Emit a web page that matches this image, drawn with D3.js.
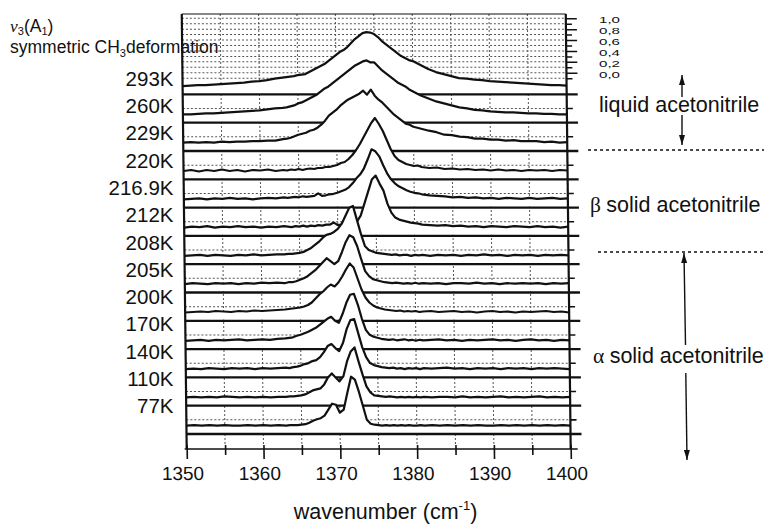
<!DOCTYPE html>
<html><head><meta charset="utf-8">
<script src="https://cdn.jsdelivr.net/npm/d3@7"></script>
<style>
html,body{margin:0;padding:0;background:#fff;}
svg{display:block;font-family:"Liberation Sans",Arial,Helvetica,sans-serif;}
</style></head><body>
<svg id="chart" width="770" height="524"></svg>
<script>
// ---------------- DATA ----------------
const wavenumbers = [1350,1351,1352,1353,1354,1355,1356,1357,1358,1359,1360,1361,1362,1363,
  1363.5,1364,1364.5,1365,1365.5,1366,1366.5,1367,1367.5,1368,1368.5,1369,1369.5,1370,1370.5,1371,1371.5,1372,1372.5,1373,1373.5,1374,1374.5,1375,1375.5,1376,1376.5,1377,1377.5,1378,1378.5,1379,1379.5,1380,1380.5,1381,
  1382,1383,1384,1385,1386,1387,1388,1389,1390,1391,1392,1393,1394,1395,1396,1397,1398,1399,1400];

const temperatures = ["293K","260K","229K","220K","216.9K","212K","208K","205K","200K","170K","140K","110K","77K"];

// intensities (arb. units), one array per temperature
const s293 = [0,0.5,1,1,1.5,2,2.5,3,3.5,4.5,5,6,7.5,8.5,
  9,9.5,10,11,11.5,12,14,16,18,20,22,25,28,31,34,36,39,43,47,50,53,54,53.5,52,49,45,42,39,36,33,30,28,26,25,23,21,
  17,14,12,10,8,7.5,6.5,6,5,4.5,4,3.5,3,2.5,2,1.5,1,1,0.5];
const s260 = [0,0,0.5,1,1,1.5,2,2.5,3,3.5,4,5,6,6.5,
  7,8,9,11,12,14,16,18,20,23,26,28,31,34,37,40,43,46,49,51,53,54,52,52,48,44,41,38,35,32,30,28,25,23,21,19,
  16,13,11,9,7,6,4.5,4,3,2.5,2,2,1.5,1,1,0.5,0.5,0,0];
const s229 = [0,0.5,0,0.5,0,1,0.5,1,1,1.5,1.5,2,2,3.5,
  4,5,6.5,8,9,10,12,13,15,18,22,27,30,33,37,40,43,45,47,49,52,48,53,47,43,40,36,32,28,25,22,19,18,16,15,14,
  12,10.5,8,7.5,6,5.5,4,4,3,3,2,2.5,1.5,1.5,1.5,0.5,1,0,0.5];
const s220 = [0,1,-0.5,1,0,1.5,0,1,-0.5,1,0.5,1.5,0,1,
  0.5,1.5,1,2,1,2,2.5,2,3,3,4,4,5,6,8,9,12,16,21,27,34,41,48,53,47,40,31,22,15,11,9,7,6,5,5.5,4,
  3,3.5,2,2.5,1.5,2,1,1.5,0.5,1.5,0.5,1,0,1,0.5,1,0,1,0.5];
const s2169 = [0,0.5,1,0,1,0.5,1.5,0.5,1,0,1,1.5,1,2,
  1.5,2,2.5,2,3,2.5,3,3.5,6,3.5,4,5,5.5,6.5,8,9.5,12,16,21,25,31,40,50,48,43,34,26,20,16,13,11,9,7.5,6.5,6,5,
  4,3.5,3,2,2.5,1.5,2,1,1.5,0.5,1.5,1,0.5,1.5,0.5,1,1.5,0.5,1];
const s212 = [0,1,0.5,1.5,0,1,0.5,1.5,0.5,1,0,1,0.5,1.5,
  1,0.5,1.5,1,2,1,2,1.5,2.5,2,3,3,5,2.5,3,3.5,4,4.5,6,12,24,36,48,52,44,37,24,15,10,8,7,6,5,4.5,4,3,
  2.5,2,2.5,1.5,2,1,1.5,0.5,1.5,1,0.5,1.5,1,0.5,1.5,0.5,1,0,1];
const s208 = [0,0.5,1,0,1,0.5,0,1,0.5,1.5,0.5,1,1.5,1.5,
  2,2,2.5,3,4,6,8,11,14,18,21,22,24,27,32,40,48,50,36,22,10,6,4.5,3,2.5,2,1.5,1,1.5,0.5,1,1,0,1,0.5,1,
  0,1,0.5,1,0,1,0.5,1.5,0.5,1,0,1,0.5,1,0,1,0.5,1,0.5];
const s205 = [0,1,0.5,0,1,0.5,1,0,1,0.5,1.5,1,1.5,1,
  2,2,3,4.5,6,8,11,14,18,22,26,23,20,23,32,42,49,47,38,25,13,8,5,4,3,2,1.5,1,1.5,1,0.5,1,0.5,1.5,0.5,1,
  0.5,1,0,1,1,0.5,1.5,0.5,1,0,1,0.5,1,0.5,1,0,1,0.5,1];
const s200 = [0,0.5,1,0.5,1.5,1,0.5,1.5,1,2,1.5,2,2.5,3,
  3.5,4,4.5,5,6,7.5,10,14,18,21,25,28,26,30,36,43,49,45,34,23,15,10,7,5,4,3,2.5,2,1.5,2,1,1.5,1,1.5,0.5,1,
  1.5,0.5,1,1.5,0.5,1,0,1,1.5,0.5,1,0,1,0.5,1,1.5,0.5,1,0];
const s170 = [0,0.5,1,0,1,0.5,1,1.5,0.5,1,1.5,1,2,2.5,
  3,3.5,5,6,7.5,9,11,13,16,19,22,24,20,18,27,38,46,47,36,22,11,6,4,3,2,1.5,1,1.5,0.5,1,1.5,0.5,1,0,1,0.5,
  1,1.5,0.5,1,0,1,0.5,1,1.5,0.5,1,0,1,1.5,0.5,1,0,1,0.5];
const s140 = [0,0.5,0,1,0.5,0,1,0.5,1,0,1,0.5,1,1.5,
  1,2,2.5,3.5,5,6,8,9,12,17,23,25,21,18,26,40,49,50,36,22,12,6,4,3,2,1.5,1,1.5,0.5,1,0,1,0.5,1,0,1,
  0.5,1,1.5,0.5,1,0,1,0.5,1,0,1,0.5,1,0,1,0.5,1,0.5,0];
const s110 = [0,0.5,0,0.5,0,1,0.5,0,0.5,0,0.5,0,0.5,0.5,
  1,1,1.5,2,3,5,7,8,9,13,20,24,20,16,21,36,46,50,36,23,11,5,2,1.5,1,0.5,1,0.5,0,0.5,0,0.5,0,0.5,0,0.5,
  0,0.5,0.5,0,1,0,0.5,0,0.5,1,0,0.5,0,0.5,1,0,0.5,0,0.5];
const s77 = [0,0.5,0,0.5,0,0.5,0,0,0.5,0,0.5,0,0.5,0,
  0.5,0.5,0.5,1,1.5,3,5,6.5,7.5,10,16,22,21,13,16,33,49,46,34,20,6,2,1,0.5,0,0.5,0,0.5,0,0.5,0,0.5,0,0,0.5,0,
  0.5,0,0.5,0,0.5,0,0.5,0,0,0.5,0,0.5,0,0.5,0,0.5,0,0.5,0];

const spectra = [s293,s260,s229,s220,s2169,s212,s208,s205,s200,s170,s140,s110,s77];

const xTicks = [1350,1360,1370,1380,1390,1400];
const xMinorTicks = [1355,1365,1375,1385,1395];
const scaleTicks = [0,0.2,0.4,0.6,0.8,1.0];
const scaleMinorTicks = [-0.1,0.1,0.3,0.5,0.7,0.9];
const scaleLabels = ["0,0","0,2","0,4","0,6","0,8","1,0"];

// ---------------- LAYOUT ----------------
const svg = d3.select('#chart');
const x = d3.scaleLinear().domain([1350,1400]).range([186.7,570.7]);
const X0 = x(1350), X1 = x(1400);
const nRows = temperatures.length;
const yPanel = d3.scaleLinear().domain([0,nRows-1]).range([434,94.4]); // separator below each row (0 = bottom row)
const amp = d3.scaleLinear().domain([0,60]).range([0,60]);
const ybar = d3.scaleLinear().domain([0,1]).range([72.7,18.3]);
const yLabel = d3.scaleLinear().domain([0,nRows-1]).range([78.3,406]);
const TOP = 14, AXIS_Y = 449, BASE_OFF = 8.3;
const HALF = (yPanel(0)-yPanel(1))/2;
const INK = '#111';

const g = svg.append('g').attr('transform',`translate(0,${AXIS_Y}) skewX(0.65) translate(0,${-AXIS_Y})`);

// dotted grid
const grid = g.append('g').attr('stroke','#555').attr('stroke-width',1).attr('stroke-dasharray','2,2').attr('fill','none');
const vGrid = x.ticks(10).filter(v => v > 1350 && v < 1400);
grid.selectAll('line.v').data(vGrid).join('line')
  .attr('x1',d=>x(d)).attr('x2',d=>x(d)).attr('y1',TOP).attr('y2',AXIS_Y-4);
const topGrid = d3.range(-1,11).map(i=>i/10);
grid.selectAll('line.h').data(topGrid).join('line')
  .attr('x1',X0).attr('x2',X1).attr('y1',d=>ybar(d)).attr('y2',d=>ybar(d));
const mids = d3.range(0,nRows-1).map(k=>yPanel(k)-HALF);
grid.selectAll('line.m').data(mids).join('line')
  .attr('x1',X0).attr('x2',X1).attr('y1',d=>d).attr('y2',d=>d);

// right ticks at panel mid-lines
g.append('g').selectAll('line').data(mids).join('line')
  .attr('x1',X1).attr('x2',X1+6).attr('y1',d=>d).attr('y2',d=>d)
  .attr('stroke',INK).attr('stroke-width',1.5);

// right scale bar for the top row
const rMaj = g.append('g').attr('transform',`translate(${X1},0)`)
  .call(d3.axisRight(ybar).tickValues(scaleTicks).tickSize(11).tickFormat(''));
const rMin = g.append('g').attr('transform',`translate(${X1},0)`)
  .call(d3.axisRight(ybar).tickValues(scaleMinorTicks).tickSize(6).tickFormat(''));
[rMaj,rMin].forEach(s=>{ s.select('.domain').remove(); s.selectAll('.tick line').attr('stroke',INK).attr('stroke-width',1.5); });

// spectra, top to bottom, each with white fill covering what lies above
const specG = g.append('g');
temperatures.forEach((t,i)=>{
  const k = nRows-1-i;
  const sep = yPanel(k);
  const base = sep - BASE_OFF;
  const pts = wavenumbers.map((w,j)=>[w,spectra[i][j]]);
  const area = d3.area().x(d=>x(d[0])).y0(sep-1.2).y1(d=>base-amp(d[1]));
  const line = d3.line().x(d=>x(d[0])).y(d=>base-amp(d[1]));
  specG.append('path').attr('d',area(pts)).attr('fill','#fff').attr('stroke','none');
  specG.append('path').attr('d',line(pts)).attr('fill','none').attr('stroke',INK)
    .attr('stroke-width',2.2).attr('stroke-linejoin','round');
  specG.append('line').attr('x1',X0).attr('x2',X1+11).attr('y1',sep).attr('y2',sep)
    .attr('stroke',INK).attr('stroke-width',2.3);
});

// right tick in bottom strip
g.append('line').attr('x1',X1).attr('x2',X1+6).attr('y1',yPanel(0)-HALF).attr('y2',yPanel(0)-HALF)
  .attr('stroke',INK).attr('stroke-width',1.5);

// frame
g.append('line').attr('x1',X0).attr('x2',X1).attr('y1',TOP).attr('y2',TOP).attr('stroke',INK).attr('stroke-width',1.2);
g.append('line').attr('x1',X0).attr('x2',X0).attr('y1',TOP).attr('y2',AXIS_Y).attr('stroke',INK).attr('stroke-width',2.2);
g.append('line').attr('x1',X1).attr('x2',X1).attr('y1',TOP).attr('y2',AXIS_Y).attr('stroke',INK).attr('stroke-width',2.2);

// x axis
const xa = g.append('g').attr('transform',`translate(0,${AXIS_Y})`);
xa.append('line').attr('x1',X0-2).attr('x2',X1+7).attr('y1',0).attr('y2',0).attr('stroke',INK).attr('stroke-width',1.6);
const xMaj = xa.append('g').call(d3.axisBottom(x).tickValues(xTicks).tickSize(10).tickFormat(d3.format('d')));
const xMin = xa.append('g').call(d3.axisBottom(x).tickValues(xMinorTicks).tickSize(6).tickFormat(''));
[xMaj,xMin].forEach(s=>{ s.select('.domain').remove(); s.selectAll('.tick line').attr('y1',-4).attr('stroke',INK).attr('stroke-width',1.6); });
xMaj.attr('font-size',19).attr('font-family','"Liberation Sans",Arial,sans-serif');
xMaj.selectAll('.tick text').attr('y',31).attr('dy',0).attr('dx',-4.5).attr('fill',INK);

// x-axis title
const xt = svg.append('text').attr('x',385.5).attr('y',519).attr('text-anchor','middle')
  .attr('font-size',21.5).attr('fill',INK);
xt.append('tspan').text('wavenumber (cm');
xt.append('tspan').attr('font-size',13).attr('dy',-9).text('-1');
xt.append('tspan').attr('dy',9).text(')');

// row labels
svg.append('g').selectAll('text').data(temperatures).join('text')
  .attr('x',173.5).attr('y',(d,i)=>yLabel(i)).attr('dy','0.36em').attr('text-anchor','end')
  .attr('font-size',20.5).attr('fill',INK).text(d=>d);

// top-left title
const t1 = svg.append('text').attr('x',10).attr('y',32).attr('font-size',17.5).attr('fill',INK);
t1.append('tspan').attr('font-family','"Liberation Serif",serif').attr('font-style','italic').text('ν');
t1.append('tspan').attr('font-size',11).attr('dy',3).text('3');
t1.append('tspan').attr('dy',-3).text('(A');
t1.append('tspan').attr('font-size',11).attr('dy',3).text('1');
t1.append('tspan').attr('dy',-3).text(')');
const t2 = svg.append('text').attr('x',10).attr('y',53).attr('font-size',17.5).attr('fill',INK);
t2.append('tspan').text('symmetric CH');
t2.append('tspan').attr('font-size',11).attr('dy',4).text('3');
t2.append('tspan').attr('dy',-4).text('deformation');

// scale-bar labels
svg.append('g').selectAll('text').data(scaleTicks).join('text')
  .attr('x',599).attr('y',d=>ybar(d)+1.5).attr('dy','0.36em').attr('font-size',9.6)
  .attr('textLength',21).attr('lengthAdjust','spacingAndGlyphs').attr('fill',INK)
  .text((d,i)=>scaleLabels[i]);

// phase annotations
const ann = svg.append('g').attr('fill',INK);
function phaseText(xp, yp, greek, rest){
  const t = ann.append('text').attr('x',xp).attr('y',yp).attr('font-size',21.5);
  if (greek) { t.append('tspan').attr('font-family','"Liberation Serif",serif').text(greek + ' '); }
  t.append('tspan').text(rest);
}
phaseText(599,112,null,'liquid acetonitrile');
phaseText(590,212,'β','solid acetonitrile');
phaseText(593,363,'α','solid acetonitrile');

const dots = svg.append('g').attr('stroke',INK).attr('stroke-width',1.3).attr('stroke-dasharray','3,3');
dots.append('line').attr('x1',588).attr('x2',764).attr('y1',150).attr('y2',150);
dots.append('line').attr('x1',598).attr('x2',764).attr('y1',252).attr('y2',252);

function arrow(x1,y1,x2,y2){ // shaft from (x1,y1) to tip (x2,y2)
  svg.append('line').attr('x1',x1).attr('y1',y1).attr('x2',x2).attr('y2',y2)
    .attr('stroke',INK).attr('stroke-width',1.4);
  const a = Math.atan2(y2-y1,x2-x1), L = 10, W = 3;
  const bx = x2 - L*Math.cos(a), by = y2 - L*Math.sin(a);
  const px = -Math.sin(a)*W, py = Math.cos(a)*W;
  svg.append('path').attr('d',`M${x2},${y2}L${bx+px},${by+py}L${bx-px},${by-py}Z`).attr('fill',INK);
}
arrow(682,97,682,75);
arrow(682,115,682,145);
arrow(685.5,345,684,253);
arrow(685.8,373,687,460);
</script>
</body></html>
